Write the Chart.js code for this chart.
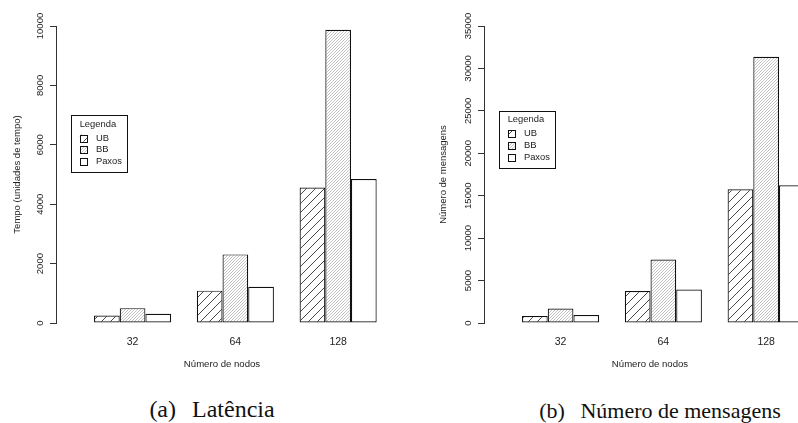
<!DOCTYPE html>
<html>
<head>
<meta charset="utf-8">
<script src="https://cdn.jsdelivr.net/npm/chart.js@4.4.1/dist/chart.umd.min.js"></script>
<style>
  html, body { margin: 0; padding: 0; background: #fff; overflow: hidden; width: 798px; height: 423px; }
  .box { position: absolute; top: 0; height: 380px; }
  #boxA { left: 0; width: 400px; }
  #boxB { left: 400px; width: 418px; }
  .cap { position: absolute; line-height: 27px; font-family: "Liberation Serif", "DejaVu Serif", serif;
         color: #111; white-space: nowrap; transform: translateX(-50%); }
  .cap .tag { margin-right: 10px; }
</style>
</head>
<body>
<div class="box" id="boxA"><canvas id="latChart"></canvas></div>
<div class="box" id="boxB"><canvas id="msgChart"></canvas></div>
<div class="cap" style="left:212px; top:396px; font-size:24px"><span class="tag">(a)</span> Latência</div>
<div class="cap" style="left:660px; top:397px; font-size:22px"><span class="tag">(b)</span> Número de mensagens</div>
<script>
// data
const categories = ["32", "64", "128"];
const seriesNames = ["UB", "BB", "Paxos"];
const latUB = [250, 1090, 4560];
const latBB = [500, 2310, 9870];
const latPaxos = [310, 1220, 4850];
const msgUB = [830, 3770, 15760];
const msgBB = [1700, 7480, 31380];
const msgPaxos = [950, 3950, 16230];

const SANS = "'Liberation Sans', Arial, sans-serif";
const ink = "#222";

// R barplot style: 3 bars per group + 1 bar of space, so group centres 4 units apart
const groupPos = (i) => 4 * i + 2.5;

function hatch(step, color, width) {
  const c = document.createElement("canvas");
  c.width = c.height = step;
  const g = c.getContext("2d");
  g.fillStyle = "#fff";
  g.fillRect(0, 0, step, step);
  g.strokeStyle = color;
  g.lineWidth = width;
  g.beginPath();
  g.moveTo(-1, step + 1); g.lineTo(step + 1, -1);
  g.moveTo(-1, 1); g.lineTo(1, -1);
  g.moveTo(step - 1, step + 1); g.lineTo(step + 1, step - 1);
  g.stroke();
  return g.createPattern(c, "repeat");
}
const fills = [hatch(9, "#333", 0.9), hatch(3, "#9a9a9a", 0.6), "#fff"];

// boxed legend like R's legend(..., title = "Legenda")
const boxLegend = {
  id: "boxLegend",
  afterDraw(chart, args, opts) {
    const ctx = chart.ctx;
    const x0 = chart.scales.x.getPixelForValue(opts.u);
    const y0 = chart.scales.y.getPixelForValue(opts.v);
    ctx.save();
    ctx.strokeStyle = "#111";
    ctx.lineWidth = 1;
    ctx.strokeRect(Math.round(x0) + 0.5, Math.round(y0) + 0.5, 56, 57);
    ctx.fillStyle = ink;
    ctx.font = "9.4px " + SANS;
    ctx.textBaseline = "middle";
    ctx.textAlign = "center";
    ctx.fillText("Legenda", x0 + 27, y0 + 9);
    ctx.textAlign = "left";
    chart.data.datasets.forEach((ds, i) => {
      const ry = y0 + 23 + i * 11.7;
      ctx.fillStyle = ds.backgroundColor;
      ctx.fillRect(x0 + 9, ry - 3.5, 7, 7);
      ctx.strokeStyle = "#111";
      ctx.strokeRect(Math.round(x0 + 9) + 0.5, Math.round(ry - 3.5) + 0.5, 7, 7);
      ctx.fillStyle = ink;
      ctx.fillText(ds.label, x0 + 25, ry);
    });
    ctx.restore();
  }
};

function makeChart(id, series, yMax, yStep, yTitle, yAxisWidth, yTitlePad, padRight, legendAt) {
  return new Chart(document.getElementById(id), {
    type: "bar",
    data: {
      datasets: series.map((vals, k) => ({
        label: seriesNames[k],
        data: vals.map((v, i) => ({ x: groupPos(i), y: v })),
        backgroundColor: fills[k],
        borderColor: "#111",
        borderWidth: 1.2,
        borderSkipped: false,
        categoryPercentage: 0.75,
        barPercentage: 1
      }))
    },
    options: {
      responsive: true,
      maintainAspectRatio: false,
      animation: false,
      layout: { padding: { left: 0, top: 26, right: padRight, bottom: 0 } },
      scales: {
        x: {
          type: "linear",
          offset: false,
          min: -0.48,
          max: 12.44,
          afterBuildTicks: (s) => { s.ticks = categories.map((c, i) => ({ value: groupPos(i) })); },
          afterFit: (s) => { s.height = 57; s.paddingLeft = 0; s.paddingRight = 0; },
          ticks: {
            callback: (v, i) => categories[i],
            autoSkip: false,
            maxRotation: 0,
            padding: 12.4,
            color: ink,
            font: { family: SANS, size: 10.5 }
          },
          grid: { display: false, drawTicks: false },
          border: { display: false },
          title: {
            display: true,
            text: "Número de nodos",
            color: ink,
            font: { family: SANS, size: 9.6 },
            padding: { top: 0, bottom: 10.2 }
          }
        },
        y: {
          min: 0,
          max: yMax,
          afterFit: (s) => { s.width = yAxisWidth; s.paddingTop = 0; s.paddingBottom = 0; },
          ticks: {
            stepSize: yStep,
            callback: (v) => String(v),
            minRotation: 90,
            maxRotation: 90,
            crossAlign: "center",
            padding: -3.2,
            color: ink,
            font: { family: SANS, size: 9.5 }
          },
          grid: { drawOnChartArea: false, drawTicks: true, tickLength: 6, tickColor: "#333", tickWidth: 1 },
          border: { display: true, color: "#333", width: 1 },
          title: {
            display: true,
            text: yTitle,
            color: ink,
            font: { family: SANS, size: 9.5 },
            padding: { top: yTitlePad, bottom: 0 }
          }
        }
      },
      plugins: {
        legend: { display: false },
        tooltip: { enabled: false },
        boxLegend: legendAt
      }
    },
    plugins: [boxLegend]
  });
}

makeChart("latChart", [latUB, latBB, latPaxos], 10000, 2000,
  "Tempo (unidades de tempo)", 56, 11.3, 12, { u: 0.1, v: 7000 });
makeChart("msgChart", [msgUB, msgBB, msgPaxos], 35000, 5000,
  "Número de mensagens", 84, 37.3, 2, { u: 0.1, v: 25000 });
</script>
</body>
</html>
